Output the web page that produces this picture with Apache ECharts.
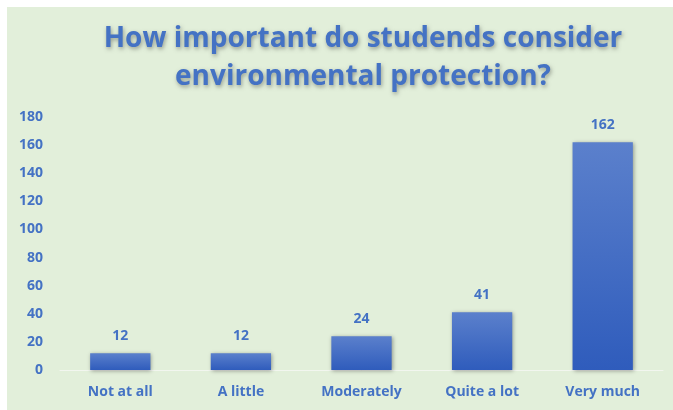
<!DOCTYPE html>
<html>
<head>
<meta charset="utf-8">
<script src="https://cdn.jsdelivr.net/npm/echarts@6/dist/echarts.min.js"></script>
<style>
html,body{margin:0;padding:0;background:#ffffff;}
#chart{width:673px;height:410px;}
</style>
</head>
<body>
<div id="chart"></div>
<script>
var titleText = 'How important do studends consider\nenvironmental protection?';
var categories = ['Not at all', 'A little', 'Moderately', 'Quite a lot', 'Very much'];
var values = [12, 12, 24, 41, 162];
var yTicks = [0, 20, 40, 60, 80, 100, 120, 140, 160, 180];

var blue = '#4472c4';
var chart = echarts.init(document.getElementById('chart'), null, {renderer: 'canvas'});
chart.setOption({
  backgroundColor: '#ffffff',
  graphic: [{
    type: 'rect', z: -10, silent: true,
    shape: {x: 7, y: 7, width: 666, height: 403},
    style: {fill: '#e2efda'}
  }],
  title: {
    text: titleText,
    left: 358, top: 15, textAlign: 'center',
    textStyle: {
      fontFamily: 'Open Sans', fontWeight: 'bold', fontSize: 28, lineHeight: 38,
      color: blue, textShadowColor: 'rgba(0,0,0,0.35)', textShadowBlur: 4, textShadowOffsetX: 1, textShadowOffsetY: 2
    }
  },
  grid: {left: 60, right: 10, top: 117, bottom: 40, containLabel: false},
  xAxis: {
    type: 'category', data: categories,
    axisLine: {lineStyle: {color: '#f2f6ef', width: 1}},
    axisTick: {show: false},
    axisLabel: {color: blue, fontFamily: 'Open Sans', fontWeight: 'bold', fontSize: 14, margin: 15}
  },
  yAxis: {
    type: 'value', min: yTicks[0], max: yTicks[yTicks.length - 1], interval: yTicks[1] - yTicks[0],
    axisLine: {show: false}, axisTick: {show: false},
    splitLine: {show: false},
    axisLabel: {color: blue, fontFamily: 'Open Sans', fontWeight: 'bold', fontSize: 14, margin: 17}
  },
  series: [{
    type: 'bar', data: values, barWidth: '50%',
    itemStyle: {
      color: new echarts.graphic.LinearGradient(0, 0, 0, 1, [
        {offset: 0, color: '#5b80cc'}, {offset: 1, color: '#2f5cbc'}
      ]),
      shadowColor: 'rgba(0,0,0,0.35)', shadowBlur: 4, shadowOffsetX: 1, shadowOffsetY: 1
    },
    label: {show: true, position: 'top', distance: 10, color: blue, fontFamily: 'Open Sans', fontWeight: 'bold', fontSize: 14}
  }]
});
</script>
</body>
</html>
